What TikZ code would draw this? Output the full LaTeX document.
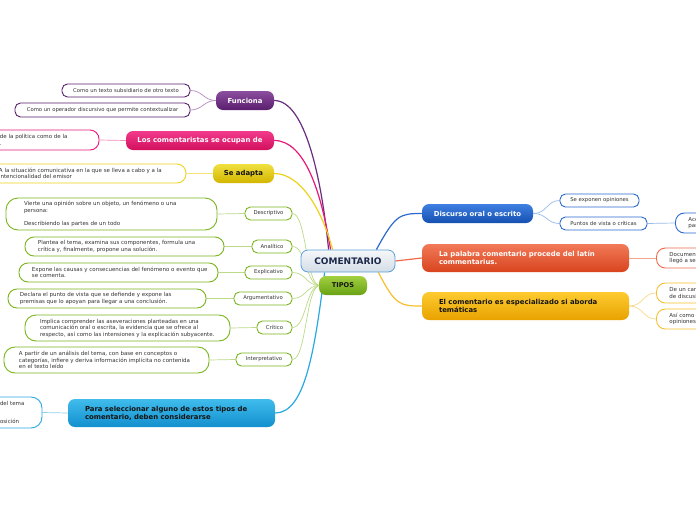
\documentclass[tikz,border=0pt]{standalone}
\usepackage{fontspec}
\setmainfont{DejaVu Sans}
\usetikzlibrary{backgrounds}
\definecolor{comB}{HTML}{5AA0D8}\definecolor{comT}{HTML}{F6F8FA}\definecolor{comD}{HTML}{D3DCE6}\definecolor{navy}{HTML}{1C2A4A}
\definecolor{purT}{HTML}{8C4E9E}\definecolor{purD}{HTML}{5A1E6E}\definecolor{purL}{HTML}{6B2D7E}\definecolor{purS}{HTML}{B58CC0}
\definecolor{pinT}{HTML}{F23A8C}\definecolor{pinD}{HTML}{D2105E}\definecolor{pinL}{HTML}{E8177A}\definecolor{pinS}{HTML}{F28CB8}
\definecolor{yelT}{HTML}{F0E040}\definecolor{yelD}{HTML}{D2B600}\definecolor{yelL}{HTML}{EDD21E}\definecolor{yelS}{HTML}{F2E27A}
\definecolor{grnT}{HTML}{A2D040}\definecolor{grnD}{HTML}{68A214}\definecolor{grnB}{HTML}{7AB51D}\definecolor{grnS}{HTML}{BCDA88}
\definecolor{bluT}{HTML}{40BCEC}\definecolor{bluD}{HTML}{1290CE}\definecolor{bluL}{HTML}{29A9E1}\definecolor{bluS}{HTML}{8FD0F0}
\definecolor{dbT}{HTML}{3F80E2}\definecolor{dbD}{HTML}{1550B0}\definecolor{dbL}{HTML}{2A6AD0}\definecolor{dbS}{HTML}{9ABCEA}
\definecolor{orT}{HTML}{F27A58}\definecolor{orD}{HTML}{D8441E}\definecolor{orL}{HTML}{F06A4A}\definecolor{orS}{HTML}{F4A58A}
\definecolor{goT}{HTML}{FDCB30}\definecolor{goD}{HTML}{E8A200}\definecolor{goL}{HTML}{F8C030}\definecolor{goS}{HTML}{F9DA8A}
\definecolor{txt}{HTML}{333333}\definecolor{dark}{HTML}{141414}
\newcommand{\mylbox}[3]{\parbox{#1pt}{\leftskip=#2pt\relax #3}}
\begin{document}
\begin{tikzpicture}[x=1pt,y=-1pt,
 conn/.style={line width=1.2pt},
 sub/.style={line width=0.7pt},
 main/.style={rounded corners=7pt, inner sep=0pt, font=\bfseries\fontsize{6.9}{8}\selectfont},
 pill/.style={draw, fill=white, rounded corners=5.5pt, line width=0.9pt, inner sep=0pt, minimum height=13pt, text=txt, font=\fontsize{5.3}{6}\selectfont},
 detail/.style={draw, fill=white, rounded corners=9pt, line width=0.9pt, inner sep=0pt, text=txt, font=\fontsize{5.5}{6.5}\selectfont},
]
\useasboundingbox (0,0) rectangle (696,520);
\clip (0,0) rectangle (696,520);

% central
\node[main, minimum width=94pt, minimum height=22pt, draw=comB, line width=0.8pt, top color=comT, bottom color=comD, text=navy, font=\bfseries\fontsize{9}{10}\selectfont] (com) at (348,261) {COMENTARIO};
\node[main, minimum width=48pt, minimum height=19pt, top color=grnT, bottom color=grnD, text=dark, font=\bfseries\fontsize{6.6}{7.6}\selectfont] (tip) at (343,285.5) {TIPOS};

% left main
\node[main, minimum width=58pt, minimum height=19pt, top color=purT, bottom color=purD, text=white] (fun) at (245,100.5) {Funciona};
\node[main, minimum width=148pt, minimum height=19pt, top color=pinT, bottom color=pinD, text=white] (ocu) at (200,140.5) {Los comentaristas se ocupan de};
\node[main, minimum width=61pt, minimum height=19pt, top color=yelT, bottom color=yelD, text=dark] (ada) at (243.5,173.5) {Se adapta};
\node[main, minimum width=207pt, minimum height=28pt, top color=bluT, bottom color=bluD, text=dark] (sel) at (171.5,413) {\mylbox{207}{17}{Para seleccionar alguno de estos tipos de\\comentario, deben considerarse}};

% right main
\node[main, minimum width=111pt, minimum height=19pt, top color=dbT, bottom color=dbD, text=white] (dis) at (477.5,213.5) {Discurso oral o escrito};
\node[main, minimum width=207pt, minimum height=28pt, top color=orT, bottom color=orD, text=white] (pal) at (525.5,258) {\mylbox{207}{17}{La palabra comentario procede del latín\\commentarius.}};
\node[main, minimum width=207pt, minimum height=28pt, top color=goT, bottom color=goD, text=dark] (esp) at (525.5,306) {\mylbox{207}{17}{El comentario es especializado si aborda\\temáticas}};

% Funciona children
\node[pill, draw=purD, minimum width=128pt] (f1) at (126,90.5) {Como un texto subsidiario de otro texto};
\node[pill, draw=purD, minimum width=175pt, minimum height=14pt] (f2) at (102.5,110) {Como un operador discursivo que permite contextualizar};

% clipped left details
\node[detail, draw=pinL, minimum height=20pt] (ocd) at (39.5,140) {\mylbox{119}{20}{de la política como de la\\.}};
\node[detail, draw=yelL, minimum height=19pt] (adad) at (86,173.5) {\mylbox{200}{13}{A la situación comunicativa en la que se lleva a cabo y a la\\intencionalidad del emisor}};
\node[detail, draw=bluL, rounded corners=11pt, minimum height=31pt] (seld) at (6,412.5) {\mylbox{72}{30}{del tema\\[11pt]osición}};

% types
\node[pill, draw=grnB, minimum width=47pt] (t1) at (268.5,213.5) {Descriptivo};
\node[pill, draw=grnB, minimum width=40pt] (t2) at (272,246.5) {Analítico};
\node[pill, draw=grnB, minimum width=47pt] (t3) at (268.5,272.5) {Explicativo};
\node[pill, draw=grnB, minimum width=58pt] (t4) at (263,298.5) {Argumentativo};
\node[pill, draw=grnB, minimum width=35pt] (t5) at (274.5,327.5) {Crítico};
\node[pill, draw=grnB, minimum width=56pt] (t6) at (264,359.5) {Interpretativo};

\node[detail, draw=grnB, rounded corners=12pt, minimum height=32pt] (d1) at (111.5,214) {\mylbox{211}{18}{Vierte una opinión sobre un objeto, un fenómeno o una\\persona:\\[6.5pt]Describiendo las partes de un todo}};
\node[detail, draw=grnB, minimum height=19pt] (d2) at (124.5,246.5) {\mylbox{199}{13}{Plantea el tema, examina sus componentes, formula una\\crítica y, finalmente, propone una solución.}};
\node[detail, draw=grnB, minimum height=19pt] (d3) at (118.5,272.5) {\mylbox{199}{13}{Expone las causas y consecuencias del fenómeno o evento que\\se comenta.}};
\node[detail, draw=grnB, minimum height=19pt] (d4) at (107,298.5) {\mylbox{198}{12}{Declara el punto de vista que se defiende y expone las\\premisas que lo apoyan para llegar a una conclusión.}};
\node[detail, draw=grnB, rounded corners=11pt, minimum height=26pt] (d5) at (127.5,328) {\mylbox{205}{15}{Implica comprender las aseveraciones planteadas en una\\comunicación oral o escrita, la evidencia que se ofrece al\\respecto, así como las intensiones y la explicación subyacente.}};
\node[detail, draw=grnB, rounded corners=11pt, minimum height=26pt] (d6) at (106.5,360) {\mylbox{205}{15}{A partir de un análisis del tema, con base en conceptos o\\categorías, infiere y deriva información implícita no contenida\\en el texto leído}};

% right children
\node[pill, draw=dbL, minimum width=79pt] (r1) at (599.5,200.5) {Se exponen opiniones};
\node[pill, draw=dbL, minimum width=87pt] (r2) at (603.5,223.5) {Puntos de vista o críticas};
\node[detail, draw=dbL, minimum height=20pt, anchor=west] (r2d) at (675,223) {\mylbox{120}{13}{Ace\\par}};
\node[detail, draw=orL, minimum height=20pt, anchor=west] (pald) at (656,258) {\mylbox{120}{13}{Document\\llegó a ser}};
\node[detail, draw=goL, minimum height=20pt, anchor=west] (e1) at (656,293) {\mylbox{120}{13}{De un can\\de discusi}};
\node[detail, draw=goL, minimum height=20pt, anchor=west] (e2) at (656,319) {\mylbox{120}{13}{Así como s\\opiniones,}};

\begin{scope}[on background layer]
\fill[white] (0,0) rectangle (696,520);
% main connectors
\draw[conn, purL] ([xshift=28pt]com.north west) .. controls +(-7,-71) and +(31,0) .. (fun.east);
\draw[conn, pinL] ([xshift=30pt]com.north west) .. controls +(-9,-56) and +(31,0) .. (ocu.east);
\draw[conn, yelL] ([xshift=32pt]com.north west) .. controls +(-11,-41) and +(26,0) .. (ada.east);
\draw[conn, bluL] ([xshift=24pt]com.south west) .. controls +(-10,78) and +(30,0) .. (sel.east);
\draw[conn, dbL] ([xshift=-19pt]com.north east) .. controls +(19,-35) and +(-22,0) .. (dis.west);
\draw[conn, orL] (com.east) -- (pal.west);
\draw[conn, goL] ([xshift=-17pt]com.south east) .. controls +(17,33) and +(-22,0) .. (esp.west);
% sub connectors
\draw[sub, purS] (fun.west) .. controls +(-12,0) and +(12,0) .. (f1.east);
\draw[sub, purS] (fun.west) .. controls +(-12,0) and +(12,0) .. (f2.east);
\draw[sub, pinS] (ocu.west) -- (ocd.east);
\draw[sub, yelS] (ada.west) -- (adad.east);
\draw[sub, bluS] (sel.west) -- (seld.east);
\foreach \t in {t1,t2,t3,t4,t5,t6} \draw[sub, grnS] ([xshift=1pt]tip.west) .. controls +(-14,0) and +(14,0) .. (\t.east);
\draw[sub, grnS] (t1.west) -- (d1.east);
\draw[sub, grnS] (t2.west) -- (d2.east);
\draw[sub, grnS] (t3.west) -- (d3.east);
\draw[sub, grnS] (t4.west) -- (d4.east);
\draw[sub, grnS] (t5.west) -- (d5.east);
\draw[sub, grnS] (t6.west) -- (d6.east);
\draw[sub, dbS] (dis.east) .. controls +(14,0) and +(-13,0) .. (r1.west);
\draw[sub, dbS] (dis.east) .. controls +(14,0) and +(-13,0) .. (r2.west);
\draw[sub, dbS] (r2.east) -- (r2d.west);
\draw[sub, orS] (pal.east) -- (pald.west);
\draw[sub, goS] (esp.east) .. controls +(14,0) and +(-13,0) .. (e1.west);
\draw[sub, goS] (esp.east) .. controls +(14,0) and +(-13,0) .. (e2.west);
\end{scope}
\end{tikzpicture}
\end{document}
